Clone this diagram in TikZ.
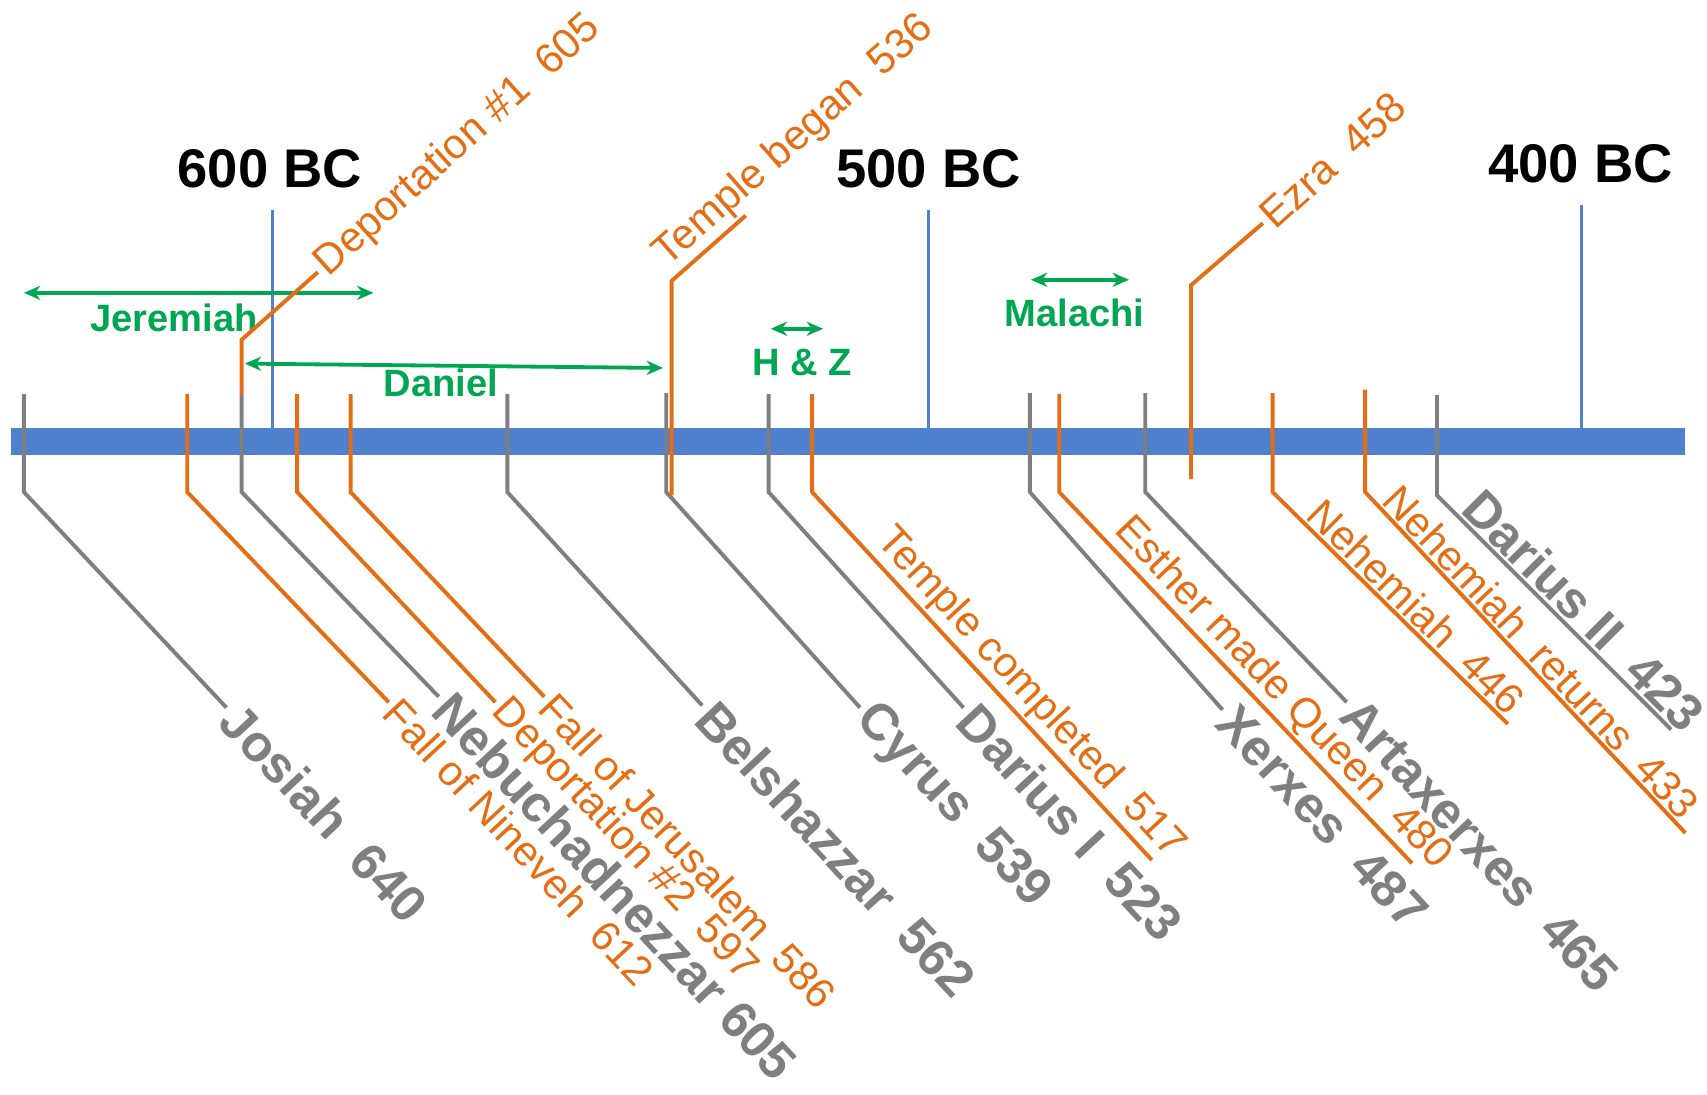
\documentclass[tikz,border=0pt]{standalone}
\usepackage{fontspec}
\setmainfont{Liberation Sans}
\usepackage{tikz}
\usetikzlibrary{arrows.meta, positioning}

\definecolor{barblue}{RGB}{79,129,207}
\definecolor{rulergray}{RGB}{127,127,127}
\definecolor{eventorange}{RGB}{228,110,20}
\definecolor{prophetgreen}{RGB}{0,166,81}

\begin{document}
\begin{tikzpicture}[
  x=1pt, y=-1pt,
  ruler/.style={draw=rulergray, line width=3.6pt},
  event/.style={draw=eventorange, line width=3.6pt},
  yeartick/.style={draw=barblue, line width=3pt},
  prophet/.style={<->, >={Stealth[length=15pt, width=13pt]}, draw=prophetgreen, line width=3.5pt},
  yearlabel/.style={font=\fontsize{50}{50}\selectfont\bfseries, inner sep=0pt},
  rulerlabel/.style={text=rulergray, font=\fontsize{47}{47}\selectfont\bfseries, inner sep=5pt},
  eventlabel/.style={text=eventorange, font=\fontsize{38.5}{38.5}\selectfont, inner sep=4pt},
  prophetlabel/.style={text=prophetgreen, font=\fontsize{35}{35}\selectfont\bfseries, inner sep=0pt}
]
  \useasboundingbox (0,0) rectangle (1568,1005);

  % main bar
  \coordinate (bar-w) at (10,405.5);
  \coordinate (bar-e) at (1548,405.5);
  \draw[barblue, line width=25pt] (bar-w) -- (bar-e);

  % centuries
  \node[yearlabel] (y600) at (248,155) {600 BC};
  \node[yearlabel] (y500) at (853,155) {500 BC};
  \node[yearlabel] (y400) at (1452,150) {400 BC};
  \coordinate (t600) at (250,193);
  \coordinate (t500) at (853,193);
  \coordinate (t400) at (1453,188);
  \draw[yeartick] (t600) -- ++(0,200);
  \draw[yeartick] (t500) -- ++(0,200);
  \draw[yeartick] (t400) -- ++(0,205);

  % prophets
  \coordinate (jer-a) at (22,269);
  \coordinate (jer-b) at (343,269);
  \draw[prophet] (jer-a) -- (jer-b);
  \node[prophetlabel] (jeremiah) at (160,292) {Jeremiah};
  \coordinate (dan-a) at (225,334);
  \coordinate (dan-b) at (609,338);
  \draw[prophet] (dan-a) -- (dan-b);
  \node[prophetlabel] (daniel) at (405,352) {Daniel};
  \coordinate (hz-a) at (708,302);
  \coordinate (hz-b) at (756,302);
  \draw[prophet] (hz-a) -- (hz-b);
  \node[prophetlabel] (hz) at (737,333) {H \& Z};
  \coordinate (mal-a) at (947,257);
  \coordinate (mal-b) at (1037,257);
  \draw[prophet] (mal-a) -- (mal-b);
  \node[prophetlabel] (malachi) at (987,287) {Malachi};

  % rulers
  \coordinate (josiah-top) at (22,362);
  \node[rulerlabel, rotate=-47, anchor=west] (josiah) at (208,650) {Josiah\ \ 640};
  \draw[ruler] (josiah-top) -- ++(0,90) -- (josiah.west);

  \coordinate (nebu-top) at (222,362);
  \node[rulerlabel, rotate=-47, anchor=west] (nebu) at (403,640) {Nebuchadnezzar 605};
  \draw[ruler] (nebu-top) -- ++(0,90) -- (nebu.west);

  \coordinate (belsh-top) at (466,362);
  \node[rulerlabel, rotate=-47, anchor=west] (belsh) at (645,648) {Belshazzar\ \ 562};
  \draw[ruler] (belsh-top) -- ++(0,90) -- (belsh.west);

  \coordinate (cyrus-top) at (612,361);
  \node[rulerlabel, rotate=-47, anchor=west] (cyrus) at (790,650) {Cyrus\ \ 539};
  \draw[ruler] (cyrus-top) -- ++(0,91) -- (cyrus.west);

  \coordinate (darius1-top) at (706,362);
  \node[rulerlabel, rotate=-47, anchor=west] (darius1) at (885,650) {Darius I\ \ 523};
  \draw[ruler] (darius1-top) -- ++(0,90) -- (darius1.west);

  \coordinate (xerxes-top) at (946,361);
  \node[rulerlabel, rotate=-47, anchor=west] (xerxes) at (1123,652) {Xerxes\ \ 487};
  \draw[ruler] (xerxes-top) -- ++(0,91) -- (xerxes.west);

  \coordinate (artax-top) at (1052,361);
  \node[rulerlabel, rotate=-47, anchor=west] (artax) at (1237,645) {Artaxerxes\ \ 465};
  \draw[ruler] (artax-top) -- ++(0,91) -- (artax.west);

  \coordinate (darius2-top) at (1320,363);
  \coordinate (darius2-end) at (1535,670);
  \draw[ruler] (darius2-top) -- ++(0,92) -- node[rulerlabel, pos=0.07, sloped, anchor=south west, inner sep=2pt] (darius2) {Darius II\ \ 423} (darius2-end);

  % events
  \coordinate (nineveh-top) at (172,362);
  \node[eventlabel, rotate=-47, anchor=west] (nineveh) at (357,645) {Fall of Nineveh\ \ 612};
  \draw[event] (nineveh-top) -- ++(0,90) -- (nineveh.west);

  \coordinate (deport2-top) at (273,362);
  \node[eventlabel, rotate=-47, anchor=west] (deport2) at (455,645) {Deportation \#2\ \ 597};
  \draw[event] (deport2-top) -- ++(0,90) -- (deport2.west);

  \coordinate (jerus-top) at (322,362);
  \node[eventlabel, rotate=-47, anchor=west] (jerus) at (500,640) {Fall of Jerusalem\ \ 586};
  \draw[event] (jerus-top) -- ++(0,90) -- (jerus.west);

  \coordinate (tcompl-top) at (746,362);
  \coordinate (tcompl-end) at (1058,790);
  \draw[event] (tcompl-top) -- ++(0,90) -- node[eventlabel, pos=0.15, sloped, anchor=south west, inner sep=2pt] (tcompl) {Temple completed\ \ 517} (tcompl-end);

  \coordinate (esther-top) at (973,362);
  \coordinate (esther-end) at (1297,793);
  \draw[event] (esther-top) -- ++(0,90) -- node[eventlabel, pos=0.12, sloped, anchor=south west, inner sep=2pt] (esther) {Esther made Queen\ \ 480} (esther-end);

  \coordinate (nehem-top) at (1169,361);
  \coordinate (nehem-end) at (1385,665);
  \draw[event] (nehem-top) -- ++(0,91) -- node[eventlabel, pos=0.11, sloped, anchor=south west, inner sep=2pt] (nehem) {Nehemiah\ \ 446} (nehem-end);

  \coordinate (nehret-top) at (1254,358);
  \coordinate (nehret-end) at (1548,765);
  \draw[event] (nehret-top) -- ++(0,94) -- node[eventlabel, pos=0.03, sloped, anchor=south west, inner sep=2pt] (nehret) {Nehemiah\ \ returns\ \ 433} (nehret-end);

  % events above the bar
  \coordinate (deport1-foot) at (222,362);
  \node[eventlabel, rotate=42, anchor=west] (deport1) at (292,250) {Deportation \#1\ \ 605};
  \draw[event] (deport1-foot) -- ++(0,-50) -- (deport1.west);

  \coordinate (tbegan-foot) at (617,455);
  \coordinate (tbegan-end) at (685,198);
  \draw[event] (tbegan-foot) -- ++(0,-197) -- node[eventlabel, pos=0.02, sloped, anchor=south west, inner sep=2pt] (tbegan) {Temple began\ \ 536} (tbegan-end);

  \coordinate (ezra-foot) at (1094,440);
  \node[eventlabel, rotate=42, anchor=west] (ezra) at (1160,205) {Ezra\ \ 458};
  \draw[event] (ezra-foot) -- ++(0,-178) -- (ezra.west);
\end{tikzpicture}
\end{document}
